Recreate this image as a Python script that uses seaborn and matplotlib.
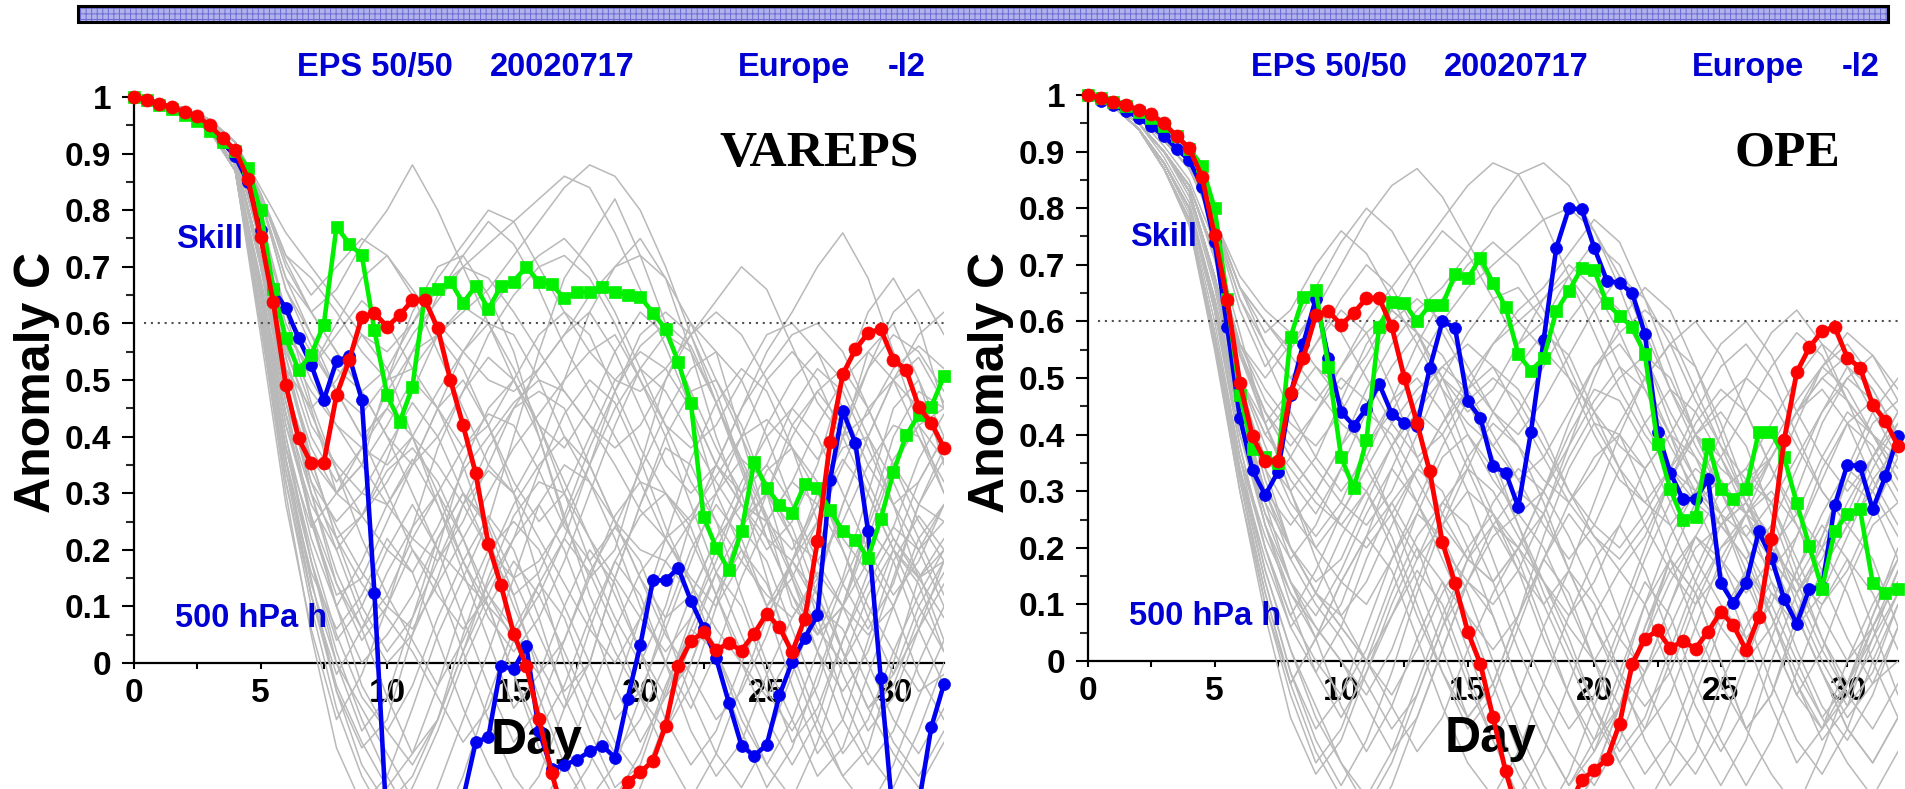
import numpy as np
import pandas as pd
import matplotlib
matplotlib.use("Agg")
import matplotlib.pyplot as plt
from matplotlib.patches import Rectangle
from matplotlib.ticker import FixedLocator
import seaborn as sns

sns.set_theme(style="white")
plt.rcParams["font.family"] = ["Liberation Sans", "DejaVu Sans"]
plt.rcParams["font.weight"] = "bold"
plt.rcParams["hatch.linewidth"] = 0.7

W, H = 1905, 789

# ---------------------------------------------------------------- data
DAYS = [i * 0.5 for i in range(65)]          # 12-hourly forecast steps
GRAY_DAYS = list(range(33))                  # daily values of ensemble members

# persistence / reference curve (same in both panels)
RED_REF = [1.000, 0.995, 0.988, 0.982, 0.974, 0.966, 0.950, 0.927, 0.906, 0.856,
           0.753, 0.638, 0.491, 0.397, 0.353, 0.354, 0.473, 0.535, 0.611, 0.618,
           0.594, 0.615, 0.641, 0.641, 0.591, 0.500, 0.420, 0.335, 0.210, 0.137,
           0.052, -0.005, -0.099, -0.195, -0.270, -0.310, -0.330, -0.310, -0.260, -0.210,
           -0.193, -0.173, -0.111, -0.005, 0.039, 0.054, 0.023, 0.035, 0.022, 0.052,
           0.087, 0.063, 0.019, 0.078, 0.215, 0.390, 0.510, 0.554, 0.583, 0.590,
           0.536, 0.518, 0.453, 0.424, 0.380]

BLUE_VAREPS = [1.000, 0.995, 0.988, 0.980, 0.972, 0.962, 0.945, 0.920, 0.895, 0.850,
               0.765, 0.660, 0.627, 0.574, 0.527, 0.465, 0.533, 0.542, 0.465, 0.123,
               -0.300, -0.360, -0.380, -0.360, -0.330, -0.280, -0.240, -0.140, -0.131, -0.005,
               -0.011, 0.030, -0.120, -0.188, -0.180, -0.171, -0.156, -0.146, -0.167, -0.063,
               0.031, 0.146, 0.146, 0.168, 0.110, 0.062, 0.008, -0.070, -0.146, -0.164,
               -0.144, -0.057, 0.002, 0.045, 0.084, 0.323, 0.446, 0.388, 0.233, -0.027,
               -0.280, -0.320, -0.250, -0.113, -0.037]

GREEN_VAREPS = [1.000, 0.995, 0.985, 0.978, 0.968, 0.958, 0.940, 0.920, 0.905, 0.875,
                0.800, 0.660, 0.574, 0.518, 0.545, 0.598, 0.771, 0.741, 0.720, 0.588,
                0.473, 0.426, 0.488, 0.653, 0.660, 0.674, 0.636, 0.666, 0.625, 0.666,
                0.674, 0.700, 0.673, 0.669, 0.644, 0.655, 0.655, 0.665, 0.655, 0.651,
                0.647, 0.619, 0.590, 0.532, 0.460, 0.258, 0.204, 0.164, 0.233, 0.355,
                0.309, 0.280, 0.265, 0.316, 0.309, 0.270, 0.233, 0.218, 0.186, 0.254,
                0.337, 0.402, 0.438, 0.453, 0.507]

BLUE_OPE = [1.000, 0.990, 0.982, 0.972, 0.960, 0.945, 0.928, 0.905, 0.885, 0.838,
            0.740, 0.590, 0.430, 0.337, 0.293, 0.334, 0.470, 0.560, 0.640, 0.535,
            0.440, 0.416, 0.446, 0.490, 0.437, 0.420, 0.416, 0.517, 0.600, 0.589,
            0.459, 0.430, 0.344, 0.333, 0.272, 0.405, 0.567, 0.730, 0.800, 0.798,
            0.730, 0.672, 0.668, 0.650, 0.578, 0.405, 0.333, 0.286, 0.286, 0.322,
            0.138, 0.102, 0.138, 0.229, 0.182, 0.110, 0.066, 0.128, 0.130, 0.275,
            0.347, 0.344, 0.268, 0.326, 0.398]

GREEN_OPE = [1.000, 0.995, 0.988, 0.980, 0.970, 0.960, 0.945, 0.928, 0.905, 0.875,
             0.800, 0.640, 0.470, 0.375, 0.360, 0.350, 0.572, 0.643, 0.655, 0.520,
             0.360, 0.305, 0.390, 0.590, 0.635, 0.632, 0.600, 0.629, 0.629, 0.683,
             0.676, 0.712, 0.668, 0.625, 0.542, 0.513, 0.535, 0.618, 0.654, 0.694,
             0.690, 0.632, 0.610, 0.590, 0.542, 0.384, 0.304, 0.250, 0.254, 0.384,
             0.304, 0.286, 0.304, 0.405, 0.405, 0.360, 0.279, 0.203, 0.128, 0.229,
             0.260, 0.268, 0.138, 0.120, 0.128]

# ensemble members, anomaly correlation in hundredths, day 0..32
MEMBERS_VAREPS = [
    [100, 99, 97, 95, 90, 76, 58, 45, 30, 35, 50, 62, 70, 72, 65, 55, 40, 25, 15, 20, 35, 50, 60, 55, 40, 25, 10, 5, 15, 30, 45, 50, 40],
    [100, 99, 98, 96, 92, 83, 71, 62, 55, 48, 40, 30, 20, 15, 25, 40, 55, 68, 75, 82, 72, 60, 45, 30, 20, 10, 15, 25, 40, 55, 60, 50, 35],
    [100, 99, 97, 94, 87, 62, 36, 15, -5, -15, -10, 5, 20, 35, 45, 50, 42, 30, 18, 8, 0, 10, 25, 35, 30, 15, 0, -12, -20, -15, 0, 15, 20],
    [100, 99, 97, 95, 90, 76, 58, 52, 60, 68, 72, 65, 55, 45, 35, 30, 38, 50, 62, 70, 75, 68, 55, 40, 28, 20, 25, 35, 50, 62, 68, 60, 45],
    [100, 99, 98, 96, 92, 83, 72, 68, 62, 55, 50, 52, 58, 62, 66, 72, 78, 84, 88, 86, 80, 70, 58, 46, 35, 25, 20, 28, 40, 52, 58, 55, 48],
    [100, 99, 97, 94, 88, 67, 44, 25, 10, 0, 5, 12, 22, 30, 25, 15, 5, -5, 0, 15, 28, 38, 35, 25, 12, 0, -10, -20, -15, -2, 10, 22, 28],
    [100, 99, 97, 95, 89, 72, 52, 38, 30, 35, 42, 50, 45, 35, 22, 10, 0, -8, 0, 15, 28, 40, 48, 50, 42, 30, 15, 5, 10, 25, 40, 48, 45],
    [100, 99, 97, 94, 88, 67, 44, 25, 12, 15, 25, 35, 45, 50, 42, 30, 15, 0, -12, -22, -18, -5, 8, 20, 30, 35, 28, 15, 2, -8, -2, 10, 18],
    [100, 99, 98, 96, 92, 83, 70, 62, 66, 74, 80, 88, 80, 70, 60, 50, 42, 38, 45, 55, 62, 58, 48, 38, 30, 35, 45, 52, 48, 38, 28, 20, 25],
    [100, 99, 97, 95, 89, 72, 50, 32, 20, 8, 0, 5, 15, 28, 38, 45, 48, 45, 35, 25, 15, 8, 12, 22, 32, 40, 45, 40, 30, 20, 12, 18, 28],
    [100, 99, 97, 95, 90, 76, 56, 42, 35, 30, 28, 35, 45, 55, 62, 68, 72, 75, 70, 62, 52, 42, 32, 25, 18, 12, 8, 15, 28, 40, 50, 58, 62],
    [100, 99, 97, 94, 87, 62, 36, 18, 2, -10, -20, -28, -22, -10, 2, 15, 28, 35, 32, 22, 10, 0, -8, 2, 15, 25, 32, 28, 20, 10, 2, -5, -2],
    [100, 99, 98, 96, 92, 82, 68, 58, 48, 40, 45, 55, 65, 72, 78, 74, 66, 56, 48, 40, 32, 22, 15, 10, 18, 30, 42, 48, 52, 45, 35, 25, 18],
    [100, 99, 97, 95, 89, 72, 52, 45, 50, 58, 52, 40, 28, 18, 10, 5, 12, 22, 35, 48, 58, 62, 58, 48, 35, 22, 12, 5, 10, 22, 35, 42, 45],
    [100, 99, 97, 95, 90, 76, 60, 50, 42, 35, 28, 22, 18, 25, 35, 45, 52, 58, 62, 55, 45, 35, 30, 35, 45, 55, 62, 70, 76, 68, 55, 42, 30],
    [100, 99, 97, 94, 87, 62, 36, 12, -5, -18, -25, -20, -10, 5, 18, 28, 35, 40, 35, 25, 15, 5, -2, -10, -5, 5, 18, 30, 38, 40, 32, 22, 12],
    [100, 99, 98, 96, 92, 83, 72, 65, 70, 75, 72, 66, 60, 55, 50, 48, 52, 58, 65, 70, 72, 68, 60, 50, 40, 30, 22, 18, 25, 35, 42, 40, 32],
    [100, 99, 97, 94, 88, 67, 46, 32, 25, 30, 38, 46, 40, 30, 20, 12, 16, 26, 38, 48, 56, 60, 56, 46, 34, 22, 12, 2, -5, 2, 15, 28, 36],
    [100, 99, 97, 95, 89, 72, 52, 36, 22, 10, 2, 8, 18, 28, 34, 30, 22, 14, 6, 0, 8, 22, 36, 46, 52, 48, 38, 25, 14, 6, 14, 28, 38],
    [100, 99, 97, 94, 88, 67, 42, 28, 20, 26, 36, 48, 58, 63, 60, 52, 42, 32, 22, 15, 8, 2, 8, 18, 30, 42, 50, 55, 50, 40, 28, 15, 8],
    [100, 99, 98, 96, 92, 82, 66, 56, 48, 44, 50, 58, 64, 70, 74, 78, 82, 86, 84, 76, 66, 56, 45, 35, 28, 22, 18, 25, 35, 45, 50, 45, 38],
    [100, 99, 97, 94, 87, 62, 38, 20, 5, -6, -12, -18, -10, 2, 15, 26, 32, 30, 22, 12, 2, -6, 0, 12, 24, 30, 24, 12, 2, -8, -4, 8, 16],
    [100, 99, 97, 95, 90, 76, 58, 52, 58, 64, 60, 52, 45, 38, 42, 50, 58, 62, 58, 48, 38, 30, 25, 30, 40, 50, 55, 50, 40, 30, 20, 15, 22],
    [100, 99, 97, 94, 87, 60, 34, 12, -4, -14, -22, -16, -4, 10, 20, 25, 20, 10, 0, -10, -5, 6, 18, 30, 36, 32, 22, 8, -6, -16, -22, -12, 0],
    [100, 99, 98, 96, 92, 82, 68, 62, 55, 48, 40, 35, 40, 48, 58, 65, 70, 72, 68, 60, 50, 42, 38, 42, 50, 58, 60, 55, 45, 35, 28, 32, 40],
    [100, 99, 97, 95, 89, 72, 54, 40, 32, 38, 48, 55, 58, 52, 42, 32, 25, 30, 40, 50, 55, 52, 45, 35, 28, 25, 32, 42, 50, 55, 50, 40, 30],
    [100, 99, 97, 94, 88, 66, 42, 26, 14, 6, 12, 22, 30, 38, 44, 42, 34, 24, 18, 24, 34, 44, 52, 55, 50, 40, 28, 18, 10, 5, 10, 20, 28],
    [100, 99, 97, 95, 89, 70, 48, 34, 24, 16, 10, 6, 14, 22, 30, 38, 44, 50, 55, 58, 50, 40, 28, 16, 5, -5, -12, -4, 10, 24, 36, 42, 36],
    [100, 99, 98, 96, 92, 84, 76, 70, 64, 58, 55, 60, 66, 70, 68, 62, 55, 48, 42, 38, 42, 50, 58, 64, 70, 66, 56, 46, 40, 44, 52, 56, 52],
    [100, 99, 97, 94, 88, 66, 44, 30, 22, 26, 34, 38, 32, 22, 12, 4, -2, 4, 15, 26, 32, 30, 22, 12, 2, 8, 18, 28, 36, 30, 20, 10, 2],
    [100, 99, 97, 95, 90, 75, 56, 48, 42, 38, 35, 40, 48, 55, 60, 58, 50, 40, 32, 25, 20, 18, 25, 35, 45, 52, 58, 60, 55, 45, 35, 28, 25],
    [100, 99, 97, 94, 87, 60, 32, 10, -8, -20, -28, -22, -12, 0, 10, 18, 12, 2, -8, -16, -10, 0, 12, 22, 28, 25, 15, 2, -10, -18, -12, 0, 10],
    [100, 99, 98, 96, 92, 82, 66, 58, 52, 48, 52, 60, 68, 74, 80, 78, 70, 62, 55, 50, 48, 52, 58, 62, 58, 50, 42, 36, 42, 52, 62, 66, 58],
    [100, 99, 97, 94, 88, 68, 48, 36, 30, 26, 32, 40, 35, 28, 20, 15, 18, 25, 35, 45, 52, 48, 40, 32, 25, 30, 40, 48, 42, 32, 22, 15, 18],
    [100, 99, 97, 95, 89, 72, 55, 44, 34, 26, 20, 16, 24, 34, 40, 46, 50, 48, 42, 35, 27, 22, 26, 33, 40, 43, 38, 30, 22, 16, 24, 36, 44],
    [100, 99, 97, 94, 87, 62, 38, 24, 30, 38, 45, 40, 30, 18, 8, 2, 8, 18, 30, 42, 52, 58, 55, 46, 36, 26, 16, 6, 0, 8, 20, 32, 40],
    [100, 99, 97, 94, 88, 66, 40, 18, 0, -12, -6, 8, 22, 30, 24, 12, -2, -14, -24, -18, -6, 8, 20, 28, 22, 10, -4, -16, -10, 4, 18, 26, 20],
    [100, 99, 97, 95, 89, 71, 50, 30, 14, 4, 10, 24, 38, 48, 54, 50, 40, 26, 12, 2, -6, -12, -4, 10, 24, 34, 38, 32, 20, 8, -2, 6, 18],
    [100, 99, 97, 94, 87, 61, 34, 16, 6, 12, 22, 16, 4, -8, -18, -26, -20, -8, 6, 18, 26, 30, 24, 12, 0, -10, -18, -10, 4, 16, 24, 20, 10],
    [100, 99, 97, 95, 90, 77, 62, 55, 48, 40, 30, 20, 12, 6, 12, 22, 34, 44, 50, 46, 36, 24, 14, 6, 0, -6, 2, 14, 28, 40, 50, 54, 46],
    [100, 99, 97, 94, 87, 60, 30, 5, -15, -25, -20, -8, 5, 15, 10, -2, -15, -25, -18, -5, 8, 18, 12, 0, -12, -22, -15, -2, 10, 18, 10, -2, -10],
    [100, 99, 97, 94, 88, 64, 36, 14, 0, -8, -16, -24, -30, -20, -6, 6, 14, 8, -4, -14, -20, -12, 0, 12, 20, 14, 2, -10, -20, -26, -18, -6, 4],
    [100, 99, 97, 95, 89, 70, 46, 26, 10, -4, -12, -4, 8, 18, 26, 20, 8, -6, -16, -24, -16, -4, 6, 2, -8, -18, -24, -14, 0, 12, 20, 14, 2],
    [100, 99, 97, 94, 87, 58, 28, 6, -10, -2, 10, 20, 14, 2, -10, -20, -26, -18, -6, 6, 16, 22, 14, 2, -10, -18, -10, 2, 14, 24, 18, 6, -4],
    [100, 99, 97, 94, 88, 65, 38, 18, 4, 10, 20, 28, 20, 8, -4, -14, -8, 4, 16, 24, 18, 6, -6, -16, -22, -14, -2, 10, 6, -4, -14, -20, -12],
    [100, 99, 97, 95, 89, 71, 48, 30, 16, 6, -6, -16, -10, 2, 12, 6, -6, -18, -26, -30, -22, -10, 4, 16, 10, -2, -14, -8, 4, 14, 22, 16, 4],
    [100, 99, 97, 94, 87, 60, 32, 12, -2, 6, 16, 24, 30, 22, 10, -2, -12, -4, 8, 18, 12, 0, -12, -20, -14, -2, 8, 16, 10, 0, -10, -16, -8],
    [100, 99, 97, 95, 90, 74, 54, 36, 22, 14, 8, 2, -6, -14, -8, 4, 14, 22, 16, 6, -6, -16, -24, -16, -4, 8, 18, 12, 2, -8, -16, -22, -14],
    [100, 99, 98, 96, 91, 79, 62, 46, 34, 22, 12, 4, -4, 4, 14, 22, 28, 20, 8, -4, -14, -6, 6, 16, 24, 18, 6, -6, -16, -10, 2, 12, 20],
    [100, 99, 97, 94, 88, 64, 40, 22, 10, 18, 28, 36, 28, 16, 4, -8, -2, 10, 20, 14, 2, -10, -18, -12, 0, 10, 18, 10, -2, -12, -6, 6, 14],
]

MEMBERS_OPE = [
    [100, 99, 96, 92, 87, 78, 66, 60, 55, 62, 70, 78, 84, 87, 82, 74, 66, 60, 55, 50, 44, 38, 34, 40, 48, 56, 60, 54, 44, 36, 30, 36, 44],
    [100, 98, 94, 88, 80, 64, 42, 24, 12, 4, 10, 22, 34, 44, 50, 46, 36, 24, 14, 6, 0, 8, 20, 32, 40, 44, 38, 26, 14, 4, -4, 4, 16],
    [100, 98, 95, 90, 84, 72, 55, 44, 36, 30, 38, 48, 56, 62, 66, 72, 80, 86, 88, 84, 76, 66, 54, 42, 32, 24, 18, 24, 34, 44, 52, 48, 40],
    [100, 98, 94, 87, 78, 58, 34, 14, -2, -14, -22, -14, -2, 12, 24, 30, 26, 16, 4, -6, -14, -8, 4, 18, 28, 32, 26, 14, 2, -8, -14, -6, 6],
    [100, 98, 95, 90, 83, 68, 48, 36, 30, 36, 46, 56, 62, 58, 48, 36, 26, 20, 26, 38, 50, 60, 66, 62, 52, 40, 28, 18, 12, 20, 32, 42, 46],
    [100, 99, 96, 92, 87, 78, 68, 62, 58, 52, 48, 54, 62, 70, 76, 72, 64, 56, 60, 68, 74, 70, 60, 48, 38, 30, 26, 32, 42, 52, 58, 54, 46],
    [100, 98, 94, 88, 80, 62, 40, 26, 18, 24, 34, 30, 20, 8, -2, -10, -4, 8, 22, 34, 42, 40, 30, 18, 6, -4, -12, -6, 8, 22, 32, 28, 18],
    [100, 98, 95, 90, 84, 72, 56, 46, 40, 34, 28, 24, 30, 40, 50, 58, 64, 66, 60, 50, 40, 32, 28, 34, 44, 52, 56, 50, 40, 30, 24, 30, 40],
    [100, 98, 94, 87, 78, 58, 36, 20, 8, 0, -6, 2, 14, 26, 36, 40, 34, 24, 12, 2, -8, -16, -10, 2, 14, 24, 28, 22, 10, 0, -8, -2, 10],
    [100, 98, 95, 90, 83, 68, 50, 42, 48, 56, 62, 58, 48, 36, 26, 18, 14, 20, 30, 42, 52, 56, 50, 40, 28, 18, 12, 18, 30, 42, 50, 54, 48],
    [100, 99, 96, 92, 87, 78, 64, 54, 44, 36, 30, 36, 46, 56, 64, 70, 74, 70, 62, 52, 42, 34, 28, 24, 30, 40, 50, 58, 62, 56, 46, 36, 28],
    [100, 98, 94, 88, 80, 64, 44, 30, 20, 12, 6, 0, 8, 18, 28, 34, 30, 22, 14, 8, 14, 24, 34, 40, 36, 26, 14, 4, -6, -12, -4, 8, 18],
    [100, 98, 95, 90, 84, 72, 56, 50, 56, 62, 58, 50, 42, 36, 40, 48, 56, 62, 66, 72, 78, 74, 64, 52, 40, 30, 22, 16, 22, 32, 42, 46, 40],
    [100, 98, 94, 87, 78, 56, 32, 12, -4, -16, -24, -30, -22, -10, 2, 14, 24, 30, 26, 16, 6, -4, -12, -6, 6, 18, 26, 30, 24, 14, 4, -4, 0],
    [100, 98, 95, 90, 83, 68, 50, 38, 28, 22, 28, 38, 46, 50, 44, 34, 24, 16, 10, 16, 28, 40, 50, 56, 52, 42, 30, 20, 14, 22, 34, 44, 50],
    [100, 99, 96, 92, 87, 78, 66, 58, 62, 70, 76, 72, 64, 56, 48, 42, 38, 44, 52, 60, 66, 62, 54, 44, 36, 30, 34, 42, 50, 56, 52, 44, 36],
    [100, 98, 94, 88, 80, 63, 42, 28, 20, 14, 18, 28, 38, 44, 40, 30, 18, 6, -4, -12, -6, 6, 18, 28, 34, 30, 20, 8, -2, -10, -4, 8, 20],
    [100, 98, 95, 90, 84, 72, 54, 42, 32, 26, 34, 44, 52, 58, 54, 46, 38, 32, 36, 44, 52, 58, 62, 58, 48, 38, 28, 20, 26, 36, 44, 40, 32],
    [100, 98, 95, 90, 83, 68, 48, 32, 20, 12, 8, 14, 24, 34, 42, 48, 52, 48, 40, 30, 22, 16, 22, 32, 42, 48, 44, 34, 24, 16, 24, 34, 42],
    [100, 98, 94, 87, 78, 58, 34, 18, 6, -2, 6, 18, 28, 34, 30, 20, 8, -4, -14, -22, -16, -4, 10, 22, 30, 26, 16, 4, -6, 2, 14, 24, 28],
    [100, 99, 96, 92, 87, 78, 66, 56, 50, 46, 52, 60, 66, 72, 78, 84, 88, 86, 78, 68, 58, 48, 40, 34, 30, 36, 44, 52, 58, 54, 46, 40, 34],
    [100, 98, 94, 88, 80, 64, 44, 30, 24, 30, 38, 44, 40, 32, 24, 18, 14, 20, 30, 40, 48, 46, 38, 28, 18, 10, 4, 10, 22, 34, 42, 38, 30],
    [100, 98, 95, 90, 84, 72, 55, 44, 36, 30, 24, 20, 26, 34, 42, 50, 56, 60, 64, 68, 62, 52, 42, 34, 28, 24, 30, 38, 46, 52, 48, 40, 32],
    [100, 98, 94, 87, 78, 57, 32, 10, -6, -18, -12, 0, 12, 22, 28, 24, 14, 2, -8, -16, -22, -14, -2, 10, 20, 24, 18, 8, -4, -12, -6, 6, 14],
    [100, 98, 95, 90, 83, 68, 50, 40, 34, 28, 24, 30, 38, 46, 52, 56, 52, 44, 36, 28, 22, 18, 24, 32, 40, 46, 50, 46, 38, 30, 24, 30, 38],
    [100, 99, 96, 92, 87, 77, 62, 52, 58, 66, 74, 80, 76, 68, 58, 50, 44, 40, 46, 54, 62, 68, 64, 56, 46, 38, 32, 36, 44, 50, 46, 40, 36],
    [100, 98, 94, 88, 80, 62, 40, 24, 14, 8, 16, 26, 34, 28, 18, 8, 2, 8, 18, 28, 36, 40, 34, 24, 14, 6, 0, 6, 16, 26, 34, 30, 22],
    [100, 98, 95, 90, 84, 72, 56, 48, 42, 38, 44, 52, 60, 64, 60, 52, 44, 38, 32, 28, 34, 42, 50, 56, 60, 54, 44, 34, 26, 20, 26, 36, 44],
    [100, 98, 94, 87, 78, 58, 36, 22, 12, 6, 0, -8, -16, -10, 2, 14, 22, 26, 20, 10, 0, -8, -2, 10, 22, 30, 34, 28, 16, 4, -6, -12, -4],
    [100, 98, 95, 90, 83, 68, 50, 40, 46, 52, 46, 36, 26, 18, 24, 34, 44, 52, 58, 54, 44, 34, 24, 16, 10, 16, 26, 36, 44, 48, 42, 32, 24],
    [100, 99, 96, 92, 87, 78, 66, 60, 54, 48, 42, 38, 44, 52, 60, 66, 70, 74, 78, 80, 76, 68, 58, 48, 40, 34, 30, 36, 44, 52, 56, 50, 44],
    [100, 98, 94, 88, 80, 64, 42, 26, 14, 6, 0, -6, 2, 14, 26, 36, 42, 38, 28, 16, 6, -2, -8, -2, 10, 20, 26, 22, 12, 2, -6, 2, 12],
    [100, 98, 95, 90, 84, 71, 54, 44, 38, 44, 52, 58, 62, 58, 50, 40, 32, 26, 30, 38, 46, 52, 48, 40, 32, 26, 22, 28, 36, 44, 50, 46, 38],
    [100, 98, 94, 87, 78, 58, 34, 16, 2, -10, -18, -24, -16, -4, 8, 18, 24, 20, 10, 0, -10, -18, -12, 0, 12, 20, 24, 18, 8, -2, -10, -4, 6],
    [100, 98, 95, 90, 83, 68, 48, 34, 26, 20, 26, 34, 42, 48, 52, 48, 40, 32, 24, 18, 24, 34, 42, 48, 44, 36, 26, 18, 12, 18, 28, 36, 42],
    [100, 98, 94, 88, 80, 63, 42, 30, 36, 44, 50, 46, 38, 28, 20, 14, 10, 16, 26, 36, 44, 50, 54, 50, 40, 30, 20, 12, 6, 12, 22, 32, 38],
    [100, 98, 94, 87, 78, 57, 33, 14, -2, -12, -6, 6, 18, 26, 22, 12, 0, -12, -22, -28, -20, -8, 6, 16, 22, 18, 8, -4, -14, -20, -12, 0, 10],
    [100, 99, 96, 92, 87, 77, 64, 56, 50, 56, 64, 70, 66, 58, 50, 44, 48, 56, 64, 70, 66, 58, 48, 38, 30, 24, 28, 36, 44, 50, 54, 48, 40],
    [100, 98, 95, 90, 84, 72, 55, 42, 30, 20, 14, 10, 18, 28, 38, 46, 50, 46, 38, 30, 24, 20, 26, 34, 40, 36, 28, 20, 14, 10, 16, 26, 36],
    [100, 98, 95, 90, 83, 67, 46, 30, 18, 10, 4, -4, -12, -6, 6, 18, 28, 34, 30, 22, 12, 4, -2, 6, 16, 26, 32, 28, 18, 8, 0, 6, 16],
    [100, 98, 94, 87, 77, 55, 30, 8, -10, -20, -14, -2, 8, 16, 10, -2, -14, -24, -16, -4, 8, 16, 10, -2, -14, -22, -14, 0, 12, 20, 12, 0, -10],
    [100, 98, 94, 88, 79, 60, 36, 16, 2, -8, -18, -26, -18, -6, 6, 14, 8, -4, -14, -22, -14, -2, 10, 18, 12, 0, -12, -20, -26, -16, -4, 6, 14],
    [100, 98, 95, 89, 81, 64, 42, 24, 10, -2, -10, -2, 10, 20, 14, 2, -10, -20, -28, -20, -8, 4, 14, 8, -4, -14, -22, -14, -2, 10, 18, 12, 2],
    [100, 98, 94, 87, 78, 56, 32, 12, -4, 4, 14, 22, 16, 4, -8, -18, -24, -16, -4, 8, 18, 24, 16, 4, -8, -16, -8, 4, 16, 24, 18, 6, -6],
    [100, 98, 94, 88, 80, 62, 38, 20, 6, 12, 22, 30, 22, 10, -2, -12, -6, 6, 18, 26, 20, 8, -4, -14, -20, -12, 0, 12, 8, -2, -12, -18, -10],
    [100, 98, 95, 90, 82, 66, 44, 28, 14, 4, -8, -16, -8, 4, 14, 8, -4, -16, -24, -28, -20, -8, 6, 18, 12, 0, -12, -6, 6, 16, 24, 18, 6],
    [100, 98, 94, 87, 77, 56, 30, 10, -4, 4, 14, 22, 28, 20, 8, -4, -14, -6, 6, 16, 10, -2, -14, -22, -16, -4, 6, 14, 8, -2, -12, -18, -10],
    [100, 98, 95, 90, 83, 68, 50, 34, 20, 12, 6, 0, -8, -16, -10, 2, 12, 20, 14, 4, -8, -18, -26, -18, -6, 6, 16, 10, 0, -10, -18, -24, -16],
    [100, 99, 96, 91, 85, 74, 58, 42, 30, 18, 8, 0, -6, 2, 12, 20, 26, 18, 6, -6, -16, -8, 4, 14, 22, 16, 4, -8, -18, -12, 0, 10, 18],
    [100, 98, 94, 88, 80, 62, 38, 20, 8, 16, 26, 34, 26, 14, 2, -10, -4, 8, 18, 12, 0, -12, -20, -14, -2, 8, 16, 8, -4, -14, -8, 4, 12],
]

Y_TICKS = [0, 0.1, 0.2, 0.3, 0.4, 0.5, 0.6, 0.7, 0.8, 0.9, 1.0]
Y_TICK_LABELS = ["0", "0.1", "0.2", "0.3", "0.4", "0.5", "0.6", "0.7", "0.8", "0.9", "1"]
X_TICKS = [0, 5, 10, 15, 20, 25, 30]
X_TICK_LABELS = ["0", "5", "10", "15", "20", "25", "30"]
TITLE_PARTS = ["EPS 50/50", "20020717", "Europe", "-l2"]

# ---------------------------------------------------------------- styling
C_GRAY = "#b9b9b9"
C_BLUE = "#0000f0"
C_GREEN = "#00f000"
C_RED = "#ff0000"
C_TEXT_BLUE = "#0000d2"


def members_frame(members):
    rows = []
    for m, vals in enumerate(members):
        if len(vals) != len(GRAY_DAYS):
            raise ValueError(f"member {m} has {len(vals)} values")
        for d, v in zip(GRAY_DAYS, vals):
            rows.append((m, d, v / 100.0))
    return pd.DataFrame(rows, columns=["member", "day", "acc"])


fig = plt.figure(figsize=(W / 100, H / 100), dpi=100)


def fx(px):
    return px / W


def fy(py):
    return 1 - py / H


# decorative banner across the top
fig.patches.append(Rectangle((fx(78), fy(22)), fx(1888 - 78), 16 / H,
                             transform=fig.transFigure, facecolor="#b2b2ea",
                             edgecolor="#6b6bd6", hatch="+++", linewidth=0))
fig.patches.append(Rectangle((fx(78), fy(22)), fx(1888 - 78), 16 / H,
                             transform=fig.transFigure, facecolor="none",
                             edgecolor="black", linewidth=2.2))

panels = [
    dict(x0=134, x1=944, y1=97, y0=663, members=MEMBERS_VAREPS,
         blue=BLUE_VAREPS, green=GREEN_VAREPS, name="VAREPS", name_x=819),
    dict(x0=1088, x1=1898, y1=95, y0=661, members=MEMBERS_OPE,
         blue=BLUE_OPE, green=GREEN_OPE, name="OPE", name_x=1787),
]

TOP_PX = 80
PX_PER_DAY = 810 / 32
for p in panels:
    unit = p["y0"] - p["y1"]
    ax = fig.add_axes([fx(p["x0"]), 0, fx(p["x1"] - p["x0"]), (H - TOP_PX) / H])
    ax.patch.set_alpha(0)
    ylim = (-(H - p["y0"]) / unit, 1 + (p["y1"] - TOP_PX) / unit)

    # ensemble members
    df = members_frame(p["members"])
    sns.lineplot(data=df, x="day", y="acc", units="member", estimator=None,
                 color=C_GRAY, linewidth=1.1, ax=ax, legend=False, zorder=2)

    # 0.6 reference level
    ax.axhline(0.6, xmin=0.012, xmax=1, color="#505050", linestyle=(0, (1, 2.3)),
               linewidth=1.5, zorder=3)

    ax.text(15.9, -0.138, "Day", ha="center", va="center", fontsize=36,
            fontweight="bold", color="black", zorder=3.5)

    sns.lineplot(x=DAYS, y=p["blue"], color=C_BLUE, linewidth=3.3, marker="o",
                 markersize=8.6, markeredgecolor=C_BLUE, markeredgewidth=0.5,
                 estimator=None, sort=False, ax=ax, legend=False, zorder=5, clip_on=False)
    sns.lineplot(x=DAYS, y=p["green"], color=C_GREEN, linewidth=3.3, marker="s",
                 markersize=8.8, markeredgecolor=C_GREEN, markeredgewidth=0.5,
                 estimator=None, sort=False, ax=ax, legend=False, zorder=6, clip_on=False)
    sns.lineplot(x=DAYS, y=RED_REF, color=C_RED, linewidth=3.5, marker="o",
                 markersize=9.4, markeredgecolor=C_RED, markeredgewidth=0.5,
                 estimator=None, sort=False, ax=ax, legend=False, zorder=7, clip_on=False)
    ax.set_xlabel("")
    ax.set_ylabel("")
    ax.set_xlim(0, 32)
    ax.set_ylim(*ylim)

    # spines: y axis from 0 to 1, x axis drawn through zero
    for s in ("top", "right"):
        ax.spines[s].set_visible(False)
    ax.spines["left"].set_bounds(0, 1)
    ax.spines["bottom"].set_position(("data", 0))
    ax.spines["bottom"].set_bounds(0, 32)
    for s in ("left", "bottom"):
        ax.spines[s].set_visible(True)
        ax.spines[s].set_color("black")
        ax.spines[s].set_linewidth(1.6)
        ax.spines[s].set_zorder(1.6)

    ax.yaxis.set_major_locator(FixedLocator(Y_TICKS))
    ax.set_yticklabels(Y_TICK_LABELS)
    ax.yaxis.set_minor_locator(FixedLocator([0.05 + 0.1 * i for i in range(10)]))
    ax.xaxis.set_major_locator(FixedLocator(X_TICKS))
    ax.set_xticklabels(X_TICK_LABELS)
    ax.xaxis.set_minor_locator(FixedLocator([2.5 + 5 * i for i in range(7)]))
    ax.tick_params(axis="y", which="major", direction="out", length=8.5, width=1.5,
                   labelsize=24, pad=8, colors="black")
    ax.tick_params(axis="y", which="minor", direction="out", length=6, width=1.5)
    ax.tick_params(axis="x", which="both", direction="out", length=4, width=1.5,
                   labelsize=24, pad=7, colors="black")
    ax.tick_params(left=True, bottom=True, which="both")
    for lab in ax.get_xticklabels() + ax.get_yticklabels():
        lab.set_fontweight("bold")
    ax.grid(False)

    # annotations inside the panel
    ax.text(75 / PX_PER_DAY, 0.748, "Skill", ha="center",
            va="center", fontsize=23.5, fontweight="bold", color=C_TEXT_BLUE, zorder=8)
    ax.text(41 / PX_PER_DAY, 0.078, "500 hPa h", ha="left", va="center", fontsize=23.5,
            fontweight="bold", color=C_TEXT_BLUE, zorder=8)

    # axis title and header
    fig.text(fx(p["x0"] - 97), fy(382), "Anomaly C", rotation=90, ha="center",
             va="center", fontsize=36, fontweight="bold", color="black")
    for part, off in zip(TITLE_PARTS, [163, 356, 604, 754]):
        fig.text(fx(p["x0"] + off), fy(76), part, ha="left", va="baseline",
                 fontsize=23.5, fontweight="bold", color=C_TEXT_BLUE)
    fig.text(fx(p["name_x"]), fy(166), p["name"], ha="center", va="baseline",
             fontsize=37, fontweight="bold", color="black",
             family=["Liberation Serif", "DejaVu Serif"])

fig.savefig("out.png", dpi=100)
